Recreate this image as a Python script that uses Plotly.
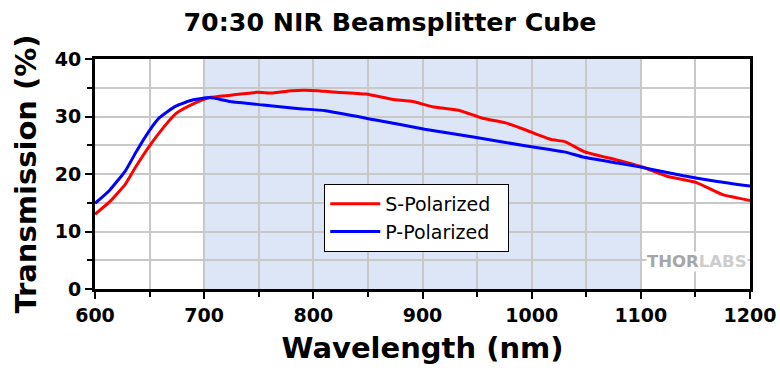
import plotly.graph_objects as go

# Data
wl_s = [600, 613, 628, 637.5, 650, 659, 674, 690, 705, 724, 748, 763, 780, 804, 815, 848, 872, 891,
        909, 933, 955, 976, 994, 1006, 1018, 1031, 1048, 1079, 1100, 1124, 1151, 1175, 1200]
s_pol = [13.0, 15.1, 18.3, 21.3, 24.9, 27.2, 30.5, 32.2, 33.3, 33.7, 34.2, 34.1, 34.5, 34.5, 34.3, 33.9, 33.0, 32.6,
         31.7, 31.1, 29.7, 28.9, 27.7, 26.8, 26.0, 25.6, 23.9, 22.4, 21.3, 19.6, 18.5, 16.4, 15.4]
wl_p = [600, 613, 628, 637.5, 650, 659, 674, 690, 705, 724, 754, 785, 811, 857, 902, 948, 994,
        1018, 1031, 1048, 1079, 1100, 1139, 1170, 1200]
p_pol = [14.9, 17.1, 20.6, 23.8, 27.6, 29.8, 31.8, 32.9, 33.3, 32.6, 32.0, 31.4, 31.0, 29.4, 27.8, 26.4, 24.9,
         24.2, 23.8, 22.9, 21.9, 21.2, 19.7, 18.7, 17.9]
band = [700, 1100]

FONT = "DejaVu Sans, Verdana, sans-serif"

fig = go.Figure()
fig.add_trace(go.Scatter(x=wl_s, y=s_pol, mode="lines", name="S-Polarized&nbsp;&nbsp;",
                         line=dict(color="#ff0000", width=3, shape="spline", smoothing=0.5)))
fig.add_trace(go.Scatter(x=wl_p, y=p_pol, mode="lines", name="P-Polarized&nbsp;&nbsp;",
                         line=dict(color="#0000ff", width=3, shape="spline", smoothing=0.5)))

fig.add_shape(type="rect", xref="x", yref="y", x0=band[0], x1=band[1], y0=0, y1=40,
              fillcolor="#dce6f6", line=dict(width=0), layer="below")

fig.add_annotation(x=1151, y=4.7, xref="x", yref="y",
                   text="<b><span style='color:#a6a6a6'>THOR</span><span style='color:#cdcdcd'>LABS</span></b>",
                   showarrow=False, font=dict(family=FONT, size=16.5, color="#a6a6a6"), bgcolor="white",
                   borderpad=0)

axis_common = dict(showline=True, linecolor="black", linewidth=3, mirror=True,
                   ticks="outside", tickcolor="black", tickwidth=2, ticklen=7,
                   gridcolor="#c8c8c8", gridwidth=2, zeroline=False, automargin=False,
                   tickfont=dict(family=FONT, size=19, color="black", weight="bold"))

fig.update_xaxes(range=[600, 1200], dtick=100, tick0=600,
                 minor=dict(dtick=50, ticks="outside", ticklen=5, tickcolor="black", tickwidth=2,
                            showgrid=True, gridcolor="#c8c8c8", gridwidth=2),
                 title=dict(text="Wavelength (nm)", standoff=13,
                            font=dict(family=FONT, size=29, color="black", weight="bold")),
                 **axis_common)
fig.update_yaxes(range=[0, 40], dtick=10, tick0=0,
                 minor=dict(dtick=5, ticks="outside", ticklen=5, tickcolor="black", tickwidth=2,
                            showgrid=True, gridcolor="#c8c8c8", gridwidth=2),
                 title=dict(text="Transmission (%)", standoff=10,
                            font=dict(family=FONT, size=29, color="black", weight="bold")),
                 **axis_common)

fig.update_layout(
    width=780, height=370,
    margin=dict(l=95, r=30, t=59, b=81),
    paper_bgcolor="white", plot_bgcolor="white",
    title=dict(text="70:30 NIR Beamsplitter Cube", x=0.5, xanchor="center",
               y=0.94, yanchor="middle",
               font=dict(family=FONT, size=25.3, color="black", weight="bold")),
    legend=dict(x=0.35, y=0.4565, xanchor="left", yanchor="top",
                bgcolor="white", bordercolor="black", borderwidth=1,
                font=dict(family=FONT, size=19, color="black"),
                itemwidth=50, tracegroupgap=0),
    showlegend=True,
)

fig.write_html("out.html", config={"displayModeBar": False},
               post_script="document.body.style.margin='0';")
